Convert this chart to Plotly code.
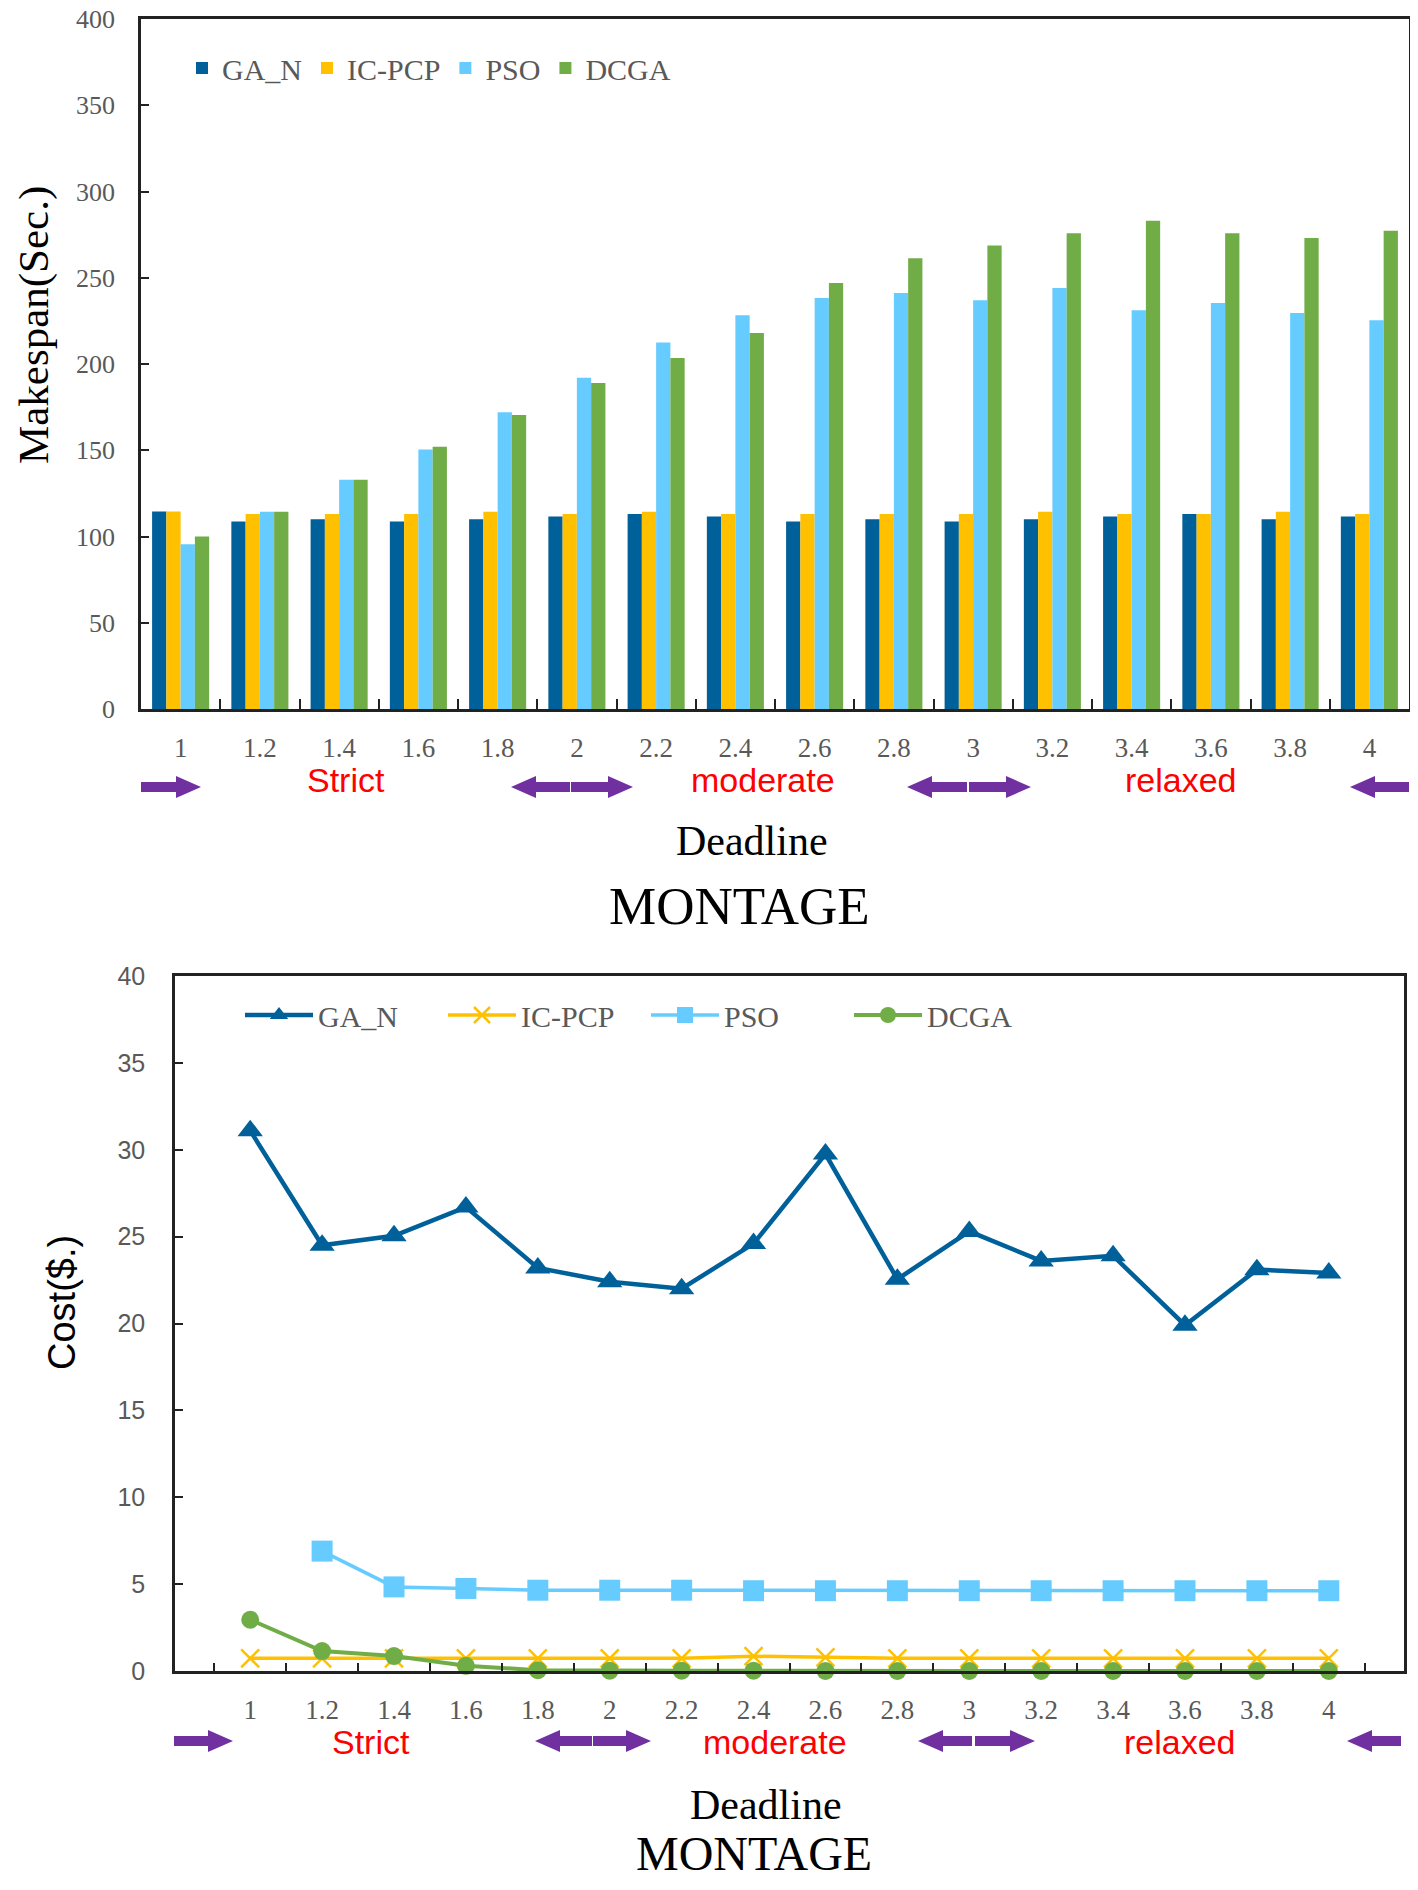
import plotly.graph_objects as go

# ---------------- data ----------------
deadlines = ["1", "1.2", "1.4", "1.6", "1.8", "2", "2.2", "2.4", "2.6", "2.8",
             "3", "3.2", "3.4", "3.6", "3.8", "4"]
series_names = ["GA_N", "IC-PCP", "PSO", "DCGA"]

makespan_ga_n = [114.5, 108.7, 110, 108.7, 110, 111.6, 113, 111.6, 108.7, 110,
                 108.7, 110, 111.6, 113, 110, 111.6]
makespan_icpcp = [114.5, 113, 113, 113, 114.4, 113, 114.4, 113, 113, 113,
                  113, 114.4, 113, 113, 114.4, 113]
makespan_pso = [95.5, 114.4, 132.9, 150.5, 172, 192, 212.5, 228.3, 238.3, 241.2,
                236.9, 244, 231.2, 235.4, 229.6, 225.4]
makespan_dcga = [100, 114.4, 132.9, 152, 170.5, 189, 203.5, 218, 247, 261.3,
                 268.7, 275.8, 283, 275.8, 273, 277.3]

cost_ga_n = [31.1, 24.5, 25.05, 26.7, 23.2, 22.4, 22.0, 24.6, 29.75, 22.55,
             25.3, 23.6, 23.9, 19.9, 23.1, 22.9]
cost_icpcp = [0.73, 0.73, 0.73, 0.73, 0.73, 0.73, 0.73, 0.85, 0.78, 0.73,
              0.73, 0.73, 0.73, 0.73, 0.73, 0.73]
cost_pso = [None, 6.9, 4.84, 4.75, 4.65, 4.65, 4.65, 4.62, 4.62, 4.62,
            4.62, 4.62, 4.62, 4.62, 4.62, 4.62]
cost_dcga = [2.95, 1.15, 0.86, 0.3, 0.05, 0.02, 0.02, 0.02, 0.0, 0.0,
             0.0, 0.0, 0.0, 0.0, 0.0, 0.0]

region_labels = ["Strict", "moderate", "relaxed"]
x_title = "Deadline"
chart_title = "MONTAGE"
y_title_top = "Makespan(Sec.)"
y_title_bottom = "Cost($.)"

# ---------------- styles ----------------
colors = ["#00609A", "#FFC000", "#66CCFF", "#70AD47"]
line_symbols = ["triangle-up", "x-thin", "square", "circle"]
marker_sizes = [22, 18, 21, 18]
line_widths = [4.5, 3.5, 3.5, 4]
# page body has an 8px margin; size the figure so it fits the 1418x1890 window
OFF = 8
W, H = 1418 - 2 * OFF, 1890 - 2 * OFF
GRAY = "#595959"
SERIF = "Liberation Serif, Times New Roman, serif"
SANS = "Liberation Sans, Arial, sans-serif"
PURPLE = "#7030A0"


def px(x):
    """screen x (pixels) -> paper fraction"""
    return (x - OFF) / W


def py(y):
    """screen y (pixels from top) -> paper fraction"""
    return 1 - (y - OFF) / H


fig = go.Figure()

for name, col, vals in zip(series_names, colors,
                           [makespan_ga_n, makespan_icpcp, makespan_pso, makespan_dcga]):
    fig.add_trace(go.Bar(x=deadlines, y=vals, name=name, marker_color=col,
                         marker_line_width=0, xaxis="x", yaxis="y", legend="legend"))

for name, col, sym, ms, lw, vals in zip(series_names, colors, line_symbols, marker_sizes,
                                        line_widths,
                                        [cost_ga_n, cost_icpcp, cost_pso, cost_dcga]):
    mk = dict(symbol=sym, size=ms, color=col)
    if sym == "x-thin":
        mk["line"] = dict(color=col, width=2.5)
    fig.add_trace(go.Scatter(x=deadlines, y=vals, name=name, mode="lines+markers",
                             line=dict(color=col, width=lw), marker=mk,
                             cliponaxis=False, xaxis="x2", yaxis="y2", legend="legend2"))

axis_common = dict(showline=True, linecolor="#222222", linewidth=2.5, mirror=True,
                   showgrid=False, zeroline=False, ticks="inside", tickcolor="#222222",
                   tickwidth=2, automargin=False, ticklabeloverflow="allow")

fig.update_layout(
    width=W, height=H, autosize=False,
    margin=dict(l=0, r=0, t=0, b=0, autoexpand=False),
    paper_bgcolor="white", plot_bgcolor="white",
    bargap=0.28, bargroupgap=0,
    xaxis=dict(domain=[px(141), px(1409)], anchor="y", type="category",
               tickson="boundaries", ticklen=10,
               tickfont=dict(family=SERIF, size=27, color=GRAY),
               ticklabelstandoff=13, **axis_common),
    yaxis=dict(domain=[py(709), py(19)], anchor="x", range=[0, 400], dtick=50,
               ticklen=8, tickfont=dict(family=SERIF, size=26, color=GRAY),
               ticklabelstandoff=18, **axis_common),
    xaxis2=dict(domain=[px(175), px(1404)], anchor="y2", type="category",
                tickson="boundaries", ticklen=8,
                tickfont=dict(family=SERIF, size=27, color=GRAY),
                ticklabelstandoff=13, **axis_common),
    yaxis2=dict(domain=[py(1671), py(976)], anchor="x2", range=[0, 40], dtick=5,
                ticklen=8, tickfont=dict(family=SANS, size=25, color=GRAY),
                ticklabelstandoff=22, **axis_common),
    legend=dict(orientation="h", x=px(182), y=py(42), xanchor="left", yanchor="top",
                font=dict(family=SERIF, size=30, color=GRAY), bgcolor="rgba(0,0,0,0)",
                itemwidth=30, traceorder="normal"),
    legend2=dict(orientation="h", x=px(240), y=py(989), xanchor="left", yanchor="top",
                 font=dict(family=SERIF, size=30, color=GRAY), bgcolor="rgba(0,0,0,0)",
                 itemwidth=68, traceorder="normal", entrywidth=120),
)

annotations = []


def add_text(text, x, y, size, family, color="black", angle=0):
    annotations.append(dict(text=text, x=px(x), y=py(y), xref="paper", yref="paper",
                            showarrow=False, xanchor="center", yanchor="middle",
                            textangle=angle,
                            font=dict(family=family, size=size, color=color)))


# top chart texts
add_text(y_title_top, 34, 325, 43, SERIF, angle=-90)
add_text(x_title, 752, 841, 42, SERIF)
add_text(chart_title, 740, 906, 53, SERIF)
for lab, xc in zip(region_labels, [346, 763, 1181]):
    add_text(lab, xc, 780, 34, SANS, color="#FF0000")

# bottom chart texts
add_text(y_title_bottom, 62, 1302, 38, SANS, angle=-90)
add_text(x_title, 766, 1805, 42, SERIF)
add_text(chart_title, 754, 1853, 48, SERIF)
for lab, xc in zip(region_labels, [371, 775, 1180]):
    add_text(lab, xc, 1742, 34, SANS, color="#FF0000")

fig.update_layout(annotations=annotations)

# block arrows marking deadline regions
shapes = []


def arrow(x0, x1, yc, direction):
    head, hh, sh = 25, 11, 5
    if direction == "right":
        pts = [(x0, yc - sh), (x1 - head, yc - sh), (x1 - head, yc - hh), (x1, yc),
               (x1 - head, yc + hh), (x1 - head, yc + sh), (x0, yc + sh)]
    else:
        pts = [(x1, yc - sh), (x0 + head, yc - sh), (x0 + head, yc - hh), (x0, yc),
               (x0 + head, yc + hh), (x0 + head, yc + sh), (x1, yc + sh)]
    path = "M " + " L ".join(f"{px(a):.5f},{py(b):.5f}" for a, b in pts) + " Z"
    shapes.append(dict(type="path", path=path, xref="paper", yref="paper",
                       fillcolor=PURPLE, line=dict(width=0)))


for (a, b, d) in [(141, 201, "right"), (511, 570, "left"), (571, 633, "right"),
                  (907, 967, "left"), (969, 1031, "right"), (1350, 1409, "left")]:
    arrow(a, b, 787, d)
for (a, b, d) in [(174, 233, "right"), (535, 592, "left"), (593, 651, "right"),
                  (918, 972, "left"), (975, 1035, "right"), (1347, 1401, "left")]:
    arrow(a, b, 1741, d)

fig.update_layout(shapes=shapes)

fig.write_html("out.html")
